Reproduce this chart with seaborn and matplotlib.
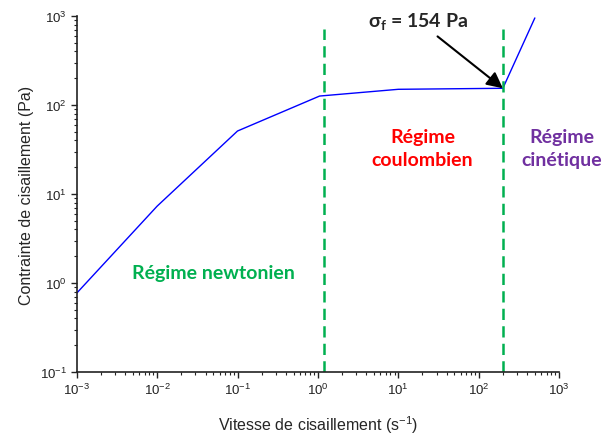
import numpy as np
import pandas as pd
import matplotlib
matplotlib.use("Agg")
import matplotlib.pyplot as plt
import matplotlib.ticker as mticker
import seaborn as sns

# shear rate (1/s) and shear stress (Pa)
shear_rate = [1e-3, 1e-2, 1e-1, 1.05, 10, 200, 500]
shear_stress = [0.77, 7.3, 51, 126, 150, 154, 950]

# regime boundaries (dashed lines)
boundaries = [1.2, 200]

# decade ticks
x_ticks = [1e-3, 1e-2, 1e-1, 1e0, 1e1, 1e2, 1e3]
y_ticks = [1e-1, 1e0, 1e1, 1e2, 1e3]

# region labels
regime_labels = ["Régime newtonien", "Régime\ncoulombien", "Régime\ncinétique"]
regime_colors = ["#00B050", "#FF0000", "#7030A0"]
regime_x = [0.05, 20, 1090]
regime_y = [1.3, 33, 33]

sns.set_style("ticks")
plt.rcParams['font.family'] = ['Liberation Sans', 'DejaVu Sans']
plt.rcParams['mathtext.fontset'] = 'custom'
plt.rcParams['mathtext.rm'] = 'Liberation Sans'
plt.rcParams['mathtext.it'] = 'Liberation Sans:italic'
plt.rcParams['mathtext.bf'] = 'Lato:bold'
plt.rcParams['axes.unicode_minus'] = False

df = pd.DataFrame({"rate": shear_rate, "stress": shear_stress})

fig = plt.figure(figsize=(6.14, 4.35), dpi=100)
ax = fig.add_axes([0.125, 0.1425, 0.7855, 0.8185])

sns.lineplot(data=df, x="rate", y="stress", ax=ax, color="#0000FF",
             linewidth=1, estimator=None, sort=False)

ax.set_xscale("log")
ax.set_yscale("log")
ax.set_xlim(1e-3, 1e3)
ax.set_ylim(1e-1, 1e3)
ax.set_xticks(x_ticks)
ax.set_yticks(y_ticks)
ax.xaxis.set_minor_locator(mticker.LogLocator(base=10, subs=np.arange(2, 10)))
ax.yaxis.set_minor_locator(mticker.LogLocator(base=10, subs=np.arange(2, 10)))
ax.xaxis.set_minor_formatter(mticker.NullFormatter())
ax.yaxis.set_minor_formatter(mticker.NullFormatter())

# dashed regime boundaries
ax.vlines(boundaries, 1e-1, 714, colors="#00B050", linestyles=(0, (4.5, 2.5)),
          linewidth=1.8)

for lab, col, xx, yy in zip(regime_labels, regime_colors, regime_x, regime_y):
    ax.text(xx, yy, lab, color=col, fontsize=14, fontweight="bold",
            family=["Lato", "DejaVu Sans"], ha="center", va="center",
            linespacing=1.45, clip_on=False)

# yield stress arrow
ax.annotate("σ$_\\mathbf{f}$ = 154 Pa", xy=(shear_rate[5], shear_stress[5]),
            xytext=(17.6, 880), textcoords="data", ha="center", va="center",
            fontsize=14, fontweight="bold", family=["Lato", "DejaVu Sans"],
            arrowprops=dict(arrowstyle="-|>", color="black", lw=1.5,
                            mutation_scale=24, shrinkA=2, shrinkB=0))

ax.set_xlabel("Vitesse de cisaillement (s$^{-1}$)", fontsize=11.5, labelpad=12)
ax.set_ylabel("Contrainte de cisaillement (Pa)", fontsize=11.5, labelpad=4)

sns.despine(ax=ax)
for sp in ["left", "bottom"]:
    ax.spines[sp].set_linewidth(1.2)
    ax.spines[sp].set_color("#222222")
ax.tick_params(which="major", direction="out", length=4, width=1,
               labelsize=9.5, colors="#222222", pad=3)
ax.tick_params(which="minor", direction="out", length=2.2, width=0.8,
               colors="#222222")

fig.savefig("out.png", dpi=100)
